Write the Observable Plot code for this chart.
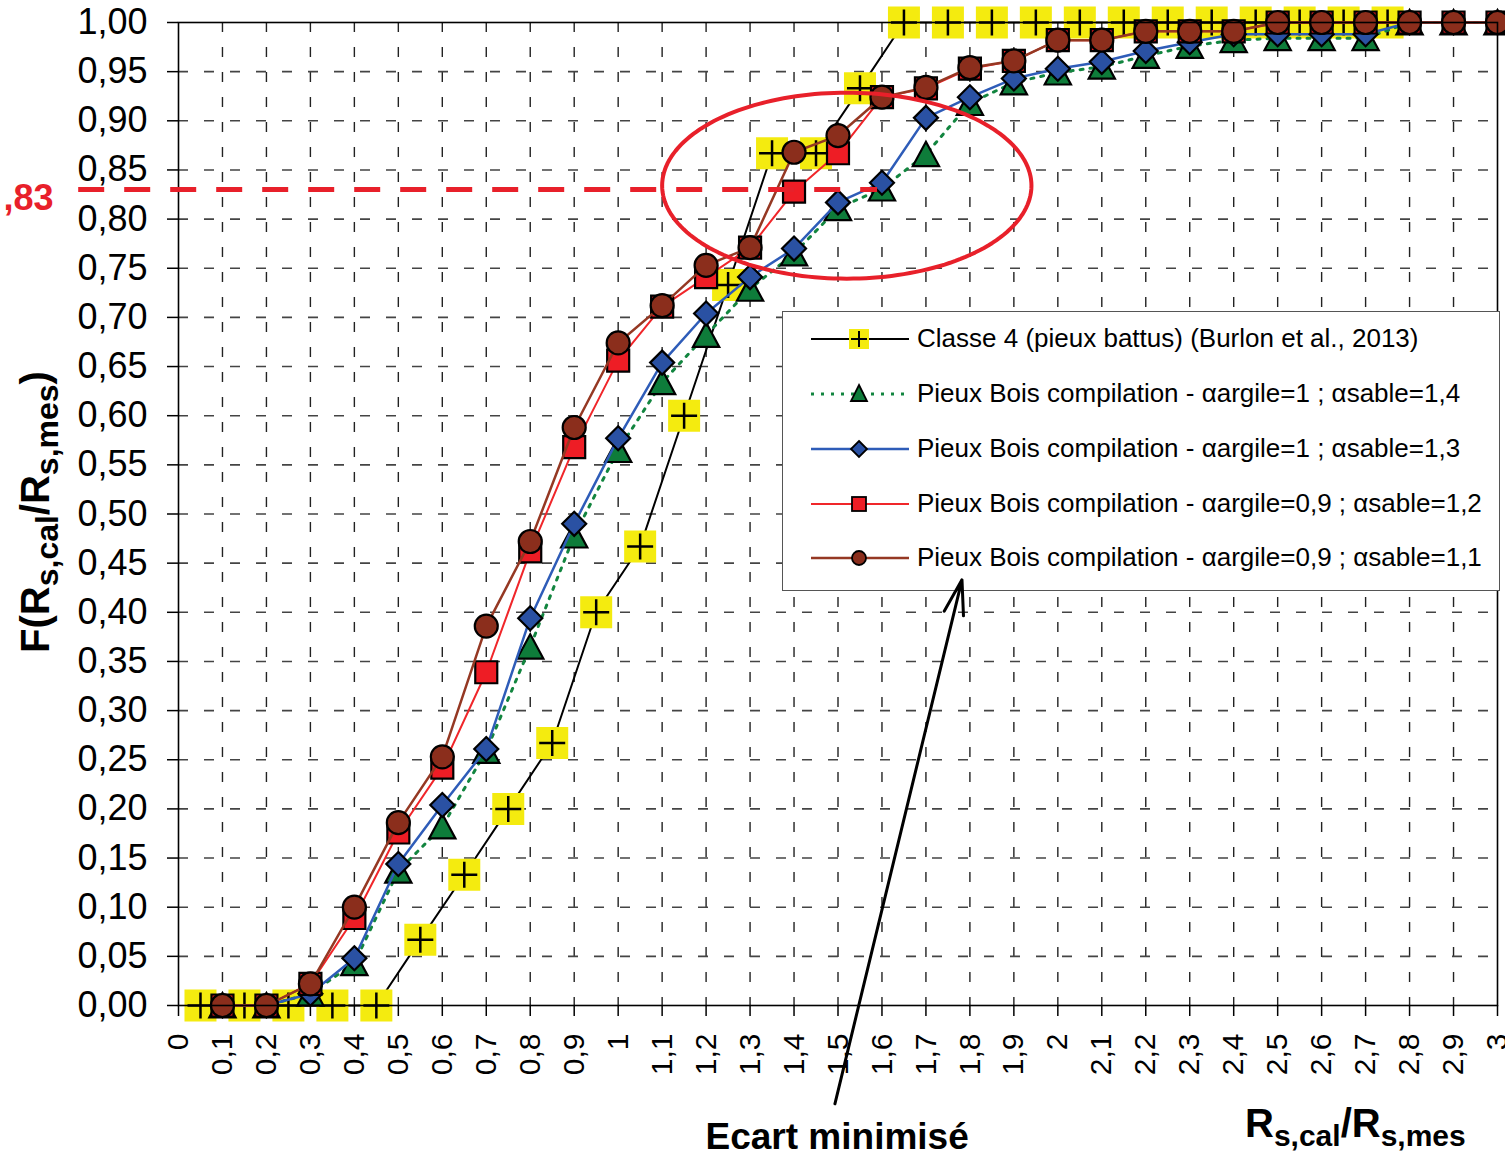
<!DOCTYPE html>
<html><head><meta charset="utf-8">
<script src="https://cdn.jsdelivr.net/npm/d3@7"></script>
<script src="https://cdn.jsdelivr.net/npm/@observablehq/plot@0.6"></script>
<style>
body{margin:0;background:#fff;font-family:"Liberation Sans",Arial,sans-serif;}
#wrap{position:relative;width:1505px;height:1155px;overflow:hidden;background:#fff;}
#wrap > svg{position:absolute;left:0;top:0;}
#legend{position:absolute;left:782px;top:311px;width:718px;height:280px;box-sizing:border-box;border:1.5px solid #555;background:#fff;}
#legend .row{position:absolute;left:0;height:40px;display:flex;align-items:center;white-space:nowrap;font-size:26px;color:#000;}
#legend .row svg{flex:none;}
.ttl{position:absolute;font-weight:bold;white-space:nowrap;color:#000;}
.ttl sub{vertical-align:-0.3em;line-height:0;}
</style></head>
<body><div id="wrap"></div>
<script>
// ---------- data ----------
const xTicks = [0,0.1,0.2,0.3,0.4,0.5,0.6,0.7,0.8,0.9,1,1.1,1.2,1.3,1.4,1.5,1.6,1.7,1.8,1.9,2,2.1,2.2,2.3,2.4,2.5,2.6,2.7,2.8,2.9,3];
const xTickLabels = ["0","0,1","0,2","0,3","0,4","0,5","0,6","0,7","0,8","0,9","1","1,1","1,2","1,3","1,4","1,5","1,6","1,7","1,8","1,9","2","2,1","2,2","2,3","2,4","2,5","2,6","2,7","2,8","2,9","3"];
const yTicks = [0,0.05,0.1,0.15,0.2,0.25,0.3,0.35,0.4,0.45,0.5,0.55,0.6,0.65,0.7,0.75,0.8,0.85,0.9,0.95,1];
const yTickLabels = ["0,00","0,05","0,10","0,15","0,20","0,25","0,30","0,35","0,40","0,45","0,50","0,55","0,60","0,65","0,70","0,75","0,80","0,85","0,90","0,95","1,00"];

const seriesNames = [
  "Classe 4 (pieux battus) (Burlon et al., 2013)",
  "Pieux Bois compilation - \u03b1argile=1 ; \u03b1sable=1,4",
  "Pieux Bois compilation - \u03b1argile=1 ; \u03b1sable=1,3",
  "Pieux Bois compilation - \u03b1argile=0,9 ; \u03b1sable=1,2",
  "Pieux Bois compilation - \u03b1argile=0,9 ; \u03b1sable=1,1"
];

const classeX = [0.05,0.15,0.25,0.35,0.45,0.55,0.65,0.75,0.85,0.95,1.05,1.15,1.25,1.35,1.45,1.55,1.65,1.75,1.85,1.95,2.05,2.15,2.25,2.35,2.45,2.55,2.65,2.75];
const classeF = [0,0,0,0,0,0.067,0.133,0.2,0.267,0.4,0.467,0.6,0.733,0.867,0.867,0.933,1,1,1,1,1,1,1,1,1,1,1,1];

const ratioX = [0.1,0.2,0.3,0.4,0.5,0.6,0.7,0.8,0.9,1,1.1,1.2,1.3,1.4,1.5,1.6,1.7,1.8,1.9,2,2.1,2.2,2.3,2.4,2.5,2.6,2.7,2.8,2.9,3];
const bois14 = [0,0,0.012,0.043,0.137,0.182,0.259,0.365,0.478,0.565,0.634,0.682,0.729,0.765,0.811,0.831,0.866,0.918,0.939,0.949,0.955,0.966,0.976,0.982,0.984,0.984,0.984,1,1,1];
const bois13 = [0,0,0.012,0.048,0.144,0.204,0.261,0.394,0.49,0.577,0.654,0.704,0.741,0.77,0.817,0.837,0.903,0.924,0.943,0.953,0.96,0.971,0.98,0.988,0.988,0.988,0.988,1,1,1];
const bois12 = [0,0,0.022,0.089,0.176,0.242,0.339,0.462,0.568,0.656,0.711,0.741,0.771,0.828,0.867,0.924,0.933,0.953,0.961,0.982,0.982,0.991,0.991,0.991,1,1,1,1,1,1];
const bois11 = [0,0,0.022,0.1,0.186,0.253,0.386,0.472,0.588,0.674,0.712,0.753,0.771,0.868,0.885,0.924,0.934,0.954,0.961,0.982,0.982,0.991,0.991,0.991,1,1,1,1,1,1];

const seuil = 0.83;
const seuilLabel = ",83";
const annotationText = "Ecart minimis\u00e9";
const xTitleParts = ["R","s,cal","/","R","s,mes"];
const yTitleParts = ["F(R","s,cal","/R","s,mes",")"];

// ---------- symbols ----------
const rad = s => Math.sqrt(s/Math.PI);
const symSquare = {draw(c,s){const r=rad(s);c.rect(-r,-r,2*r,2*r);}};
const symPlus = {draw(c,s){const r=rad(s);c.moveTo(-r,0);c.lineTo(r,0);c.moveTo(0,-r);c.lineTo(0,r);}};
const symTri = {draw(c,s){const r=rad(s);c.moveTo(0,-r);c.lineTo(r*1.05,r*0.95);c.lineTo(-r*1.05,r*0.95);c.closePath();}};
const symDiam = {draw(c,s){const r=rad(s);c.moveTo(0,-r);c.lineTo(r,0);c.lineTo(0,r);c.lineTo(-r,0);c.closePath();}};

const series = [
  {name:seriesNames[0], x:classeX, y:classeF, line:"#000", lw:2, dash:null, kind:"plusbox", fill:"#f4eb0f"},
  {name:seriesNames[1], x:ratioX, y:bois14, line:"#12853f", lw:3, dash:"3,7", kind:"tri", fill:"#0e7c3a"},
  {name:seriesNames[2], x:ratioX, y:bois13, line:"#2e5cb8", lw:2.5, dash:null, kind:"diam", fill:"#2a51a3"},
  {name:seriesNames[3], x:ratioX, y:bois12, line:"#f0262a", lw:2, dash:null, kind:"square", fill:"#ee1d25"},
  {name:seriesNames[4], x:ratioX, y:bois11, line:"#953823", lw:2.5, dash:null, kind:"circle", fill:"#8b2e1c"}
];

const xLab = new Map(xTicks.map((t,i)=>[t,xTickLabels[i]]));
const yLab = new Map(yTicks.map((t,i)=>[t,yTickLabels[i]]));
const xGrid = xTicks.filter(d=>d>0&&d<3);
const yGrid = yTicks.filter(d=>d>0&&d<1);

const seriesMarks = [];
for (const s of series) {
  const pts = s.x.map((x,i)=>({x, y:s.y[i]}));
  seriesMarks.push(Plot.line(pts,{x:"x",y:"y",stroke:s.line,strokeWidth:s.lw,strokeDasharray:s.dash||undefined}));
  if (s.kind==="plusbox") {
    seriesMarks.push(Plot.dot(pts,{x:"x",y:"y",symbol:symSquare,r:16,fill:s.fill,stroke:"none"}));
    seriesMarks.push(Plot.dot(pts,{x:"x",y:"y",symbol:symPlus,r:13,fill:"none",stroke:"#000",strokeWidth:2.5}));
  } else if (s.kind==="tri") {
    seriesMarks.push(Plot.dot(pts,{x:"x",y:"y",symbol:symTri,r:12.5,fill:s.fill,stroke:"#000",strokeWidth:2.2}));
  } else if (s.kind==="diam") {
    seriesMarks.push(Plot.dot(pts,{x:"x",y:"y",symbol:symDiam,r:12,fill:s.fill,stroke:"#000",strokeWidth:2.2}));
  } else if (s.kind==="square") {
    seriesMarks.push(Plot.dot(pts,{x:"x",y:"y",symbol:symSquare,r:11,fill:s.fill,stroke:"#000",strokeWidth:2.2}));
  } else {
    seriesMarks.push(Plot.dot(pts,{x:"x",y:"y",symbol:"circle",r:11.5,fill:s.fill,stroke:"#000",strokeWidth:2.2}));
  }
}

// annotation geometry (data units)
const ell = {cx:1.52, cy:0.834, rx:0.42, ry:0.0946};
const ellPts = d3.range(0, 361, 2).map(a=>({x:ell.cx+ell.rx*Math.cos(a*Math.PI/180), y:ell.cy+ell.ry*Math.sin(a*Math.PI/180)}));
const seuilLine = [{y:seuil, x1:-0.227, x2:1.59}];
const seuilText = [{x:-0.284, y:0.821, t:seuilLabel}];
const arrowData = [{x1:1.493, y1:-0.1, x2:1.782, y2:0.433}];
const noteData = [{x:1.498, y:-0.134, t:annotationText}];

const common = {
  width:1505, height:1155, marginLeft:178, marginRight:8, marginTop:22, marginBottom:150,
  x:{domain:[0,3]}, y:{domain:[0,1]},
  style:{fontFamily:'"Liberation Sans", Arial, sans-serif', background:"transparent", overflow:"visible"}
};

const main = Plot.plot({
  ...common,
  marks:[
    Plot.ruleX(xGrid,{stroke:"#222",strokeWidth:1.4,strokeDasharray:"10,15"}),
    Plot.ruleY(yGrid,{stroke:"#444",strokeWidth:1.6,strokeDasharray:"10,16"}),
    Plot.axisX({ticks:xTicks, tickFormat:d=>xLab.get(d), tickRotate:-90, tickSize:11, tickPadding:17, fontSize:30, strokeWidth:1.5, label:null}),
    Plot.axisY({ticks:yTicks, tickFormat:d=>yLab.get(d), tickSize:11, tickPadding:20, fontSize:36, strokeWidth:1.5, label:null}),
    ...seriesMarks,
    Plot.frame({stroke:"#000",strokeWidth:1.6}),
    Plot.ruleY(seuilLine,{y:"y",x1:"x1",x2:"x2",stroke:"#e8202a",strokeWidth:5,strokeDasharray:"26,20"}),
    Plot.text(seuilText,{x:"x",y:"y",text:"t",textAnchor:"end",fill:"#e8202a",fontWeight:"bold",fontSize:36}),
    Plot.line(ellPts,{x:"x",y:"y",stroke:"#e8202a",strokeWidth:4})
  ]
});

const overlay = Plot.plot({
  ...common,
  x:{domain:[0,3], axis:null}, y:{domain:[0,1], axis:null},
  marks:[
    Plot.arrow(arrowData,{x1:"x1",y1:"y1",x2:"x2",y2:"y2",stroke:"#000",strokeWidth:3,headLength:18,headAngle:32}),
    Plot.text(noteData,{x:"x",y:"y",text:"t",fontWeight:"bold",fontSize:37,fill:"#000"})
  ]
});
overlay.style.pointerEvents = "none";

const wrap = document.getElementById("wrap");
wrap.appendChild(main);

// legend
const legend = document.createElement("div");
legend.id = "legend";
const rowTops = [28,83,138,193,247];
function legendSvg(s){
  const cy = 20, cx = 76;
  let g = `<line x1="28" x2="126" y1="${cy}" y2="${cy}" stroke="${s.line}" stroke-width="${s.lw}" ${s.dash?`stroke-dasharray="${s.dash}"`:""}/>`;
  if (s.kind==="plusbox") g += `<rect x="${cx-10}" y="${cy-10}" width="20" height="20" fill="${s.fill}"/><path d="M${cx-8},${cy}H${cx+8}M${cx},${cy-8}V${cy+8}" stroke="#000" stroke-width="2"/>`;
  else if (s.kind==="tri") g += `<path d="M${cx},${cy-9}L${cx+8},${cy+7}L${cx-8},${cy+7}Z" fill="${s.fill}" stroke="#000" stroke-width="1.8"/>`;
  else if (s.kind==="diam") g += `<path d="M${cx},${cy-8}L${cx+8},${cy}L${cx},${cy+8}L${cx-8},${cy}Z" fill="${s.fill}" stroke="#000" stroke-width="1.8"/>`;
  else if (s.kind==="square") g += `<rect x="${cx-7}" y="${cy-7}" width="14" height="14" fill="${s.fill}" stroke="#000" stroke-width="1.8"/>`;
  else g += `<circle cx="${cx}" cy="${cy}" r="7" fill="${s.fill}" stroke="#000" stroke-width="1.8"/>`;
  return `<svg width="134" height="40">${g}</svg>`;
}
series.forEach((s,i)=>{
  const row = document.createElement("div");
  row.className = "row";
  row.style.top = (rowTops[i]-20-1.5)+"px";
  row.innerHTML = legendSvg(s) + `<span>${s.name}</span>`;
  legend.appendChild(row);
});
wrap.appendChild(legend);

// axis titles
const yt = document.createElement("div");
yt.className = "ttl";
yt.style.cssText = "left:35px;top:512px;font-size:40px;transform:translate(-50%,-50%) rotate(-90deg);";
yt.innerHTML = `${yTitleParts[0]}<sub style="font-size:32px">${yTitleParts[1]}</sub>${yTitleParts[2]}<sub style="font-size:32px">${yTitleParts[3]}</sub>${yTitleParts[4]}`;
wrap.appendChild(yt);

const xt = document.createElement("div");
xt.className = "ttl";
xt.style.cssText = "left:1245px;top:1100px;font-size:40px;line-height:46px;";
xt.innerHTML = `${xTitleParts[0]}<sub style="font-size:30px">${xTitleParts[1]}</sub>${xTitleParts[2]}${xTitleParts[3]}<sub style="font-size:30px">${xTitleParts[4]}</sub>`;
wrap.appendChild(xt);

wrap.appendChild(overlay);
</script></body></html>
